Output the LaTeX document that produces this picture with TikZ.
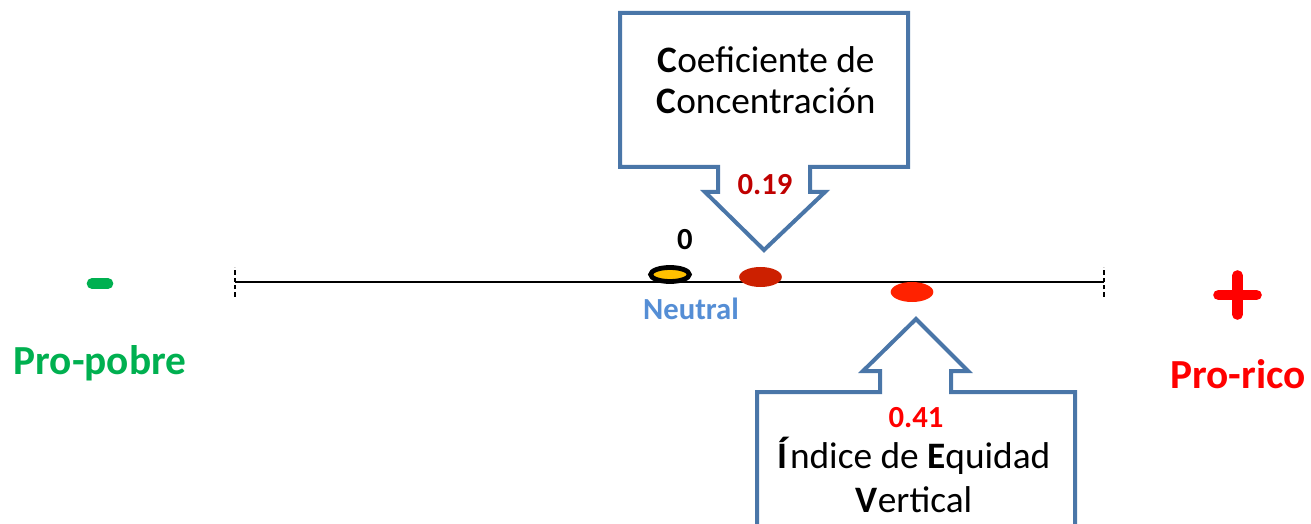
\documentclass[tikz,border=0pt]{standalone}
\usepackage{fontspec}
\setmainfont{Carlito}
\usetikzlibrary{positioning,shapes.geometric}
\definecolor{calloutblue}{RGB}{74,118,168}
\definecolor{neutralblue}{RGB}{85,142,213}
\definecolor{ccred}{RGB}{204,32,0}
\definecolor{ievred}{RGB}{255,34,0}
\definecolor{ccval}{RGB}{192,0,0}
\definecolor{ievval}{RGB}{255,0,0}
\definecolor{pobregreen}{RGB}{0,176,80}
\definecolor{neutralgold}{RGB}{255,192,0}
\tikzset{
	callout/.style = {draw=calloutblue, line width=3pt, fill=white,
		line join=miter},% flecha de llamada
	boxtext/.style = {align=center, inner sep=0pt, anchor=base,
		font=\fontsize{28}{31}\selectfont},
	valtext/.style = {inner sep=0pt, anchor=base,
		font=\bfseries\fontsize{23}{26}\selectfont},
	poletext/.style = {inner sep=0pt, anchor=base,
		font=\bfseries\fontsize{31}{36}\selectfont},
	dot_n/.style = {ellipse, draw=black, line width=3.6pt, fill=neutralgold,
		minimum width=29pt, minimum height=10.5pt, inner sep=0pt},% punto neutral
	dot_c/.style = {ellipse, fill=ccred, minimum width=32pt,
		minimum height=15pt, inner sep=0pt},% coeficiente
	dot_i/.style = {ellipse, fill=ievred, minimum width=32pt,
		minimum height=15pt, inner sep=0pt},% indice
	axtick/.style = {line width=1.1pt, dash pattern=on 3.3pt off 2.2pt}
}
\begin{document}
\begin{tikzpicture}[x=0.75pt,y=-0.75pt]
\useasboundingbox (0,0) rectangle (1311,524);
\clip (0,0) rectangle (1311,524);
% eje
\coordinate (axl) at (235,282);
\coordinate (axr) at (1104,282);
\draw [line width=1.5pt] (axl) -- (axr);
\draw [axtick] ([yshift=-11pt]axl) -- ([yshift=11pt]axl);
\draw [axtick] ([yshift=-11pt]axr) -- ([yshift=11pt]axr);
% puntos
\node (neutral) [dot_n] at (670,274.5) {};
\node (cc) [dot_c] at (760.5,277) {};
\node (iev) [dot_i] at (912,292) {};
\node (zero) [valtext] at (685,250) {0};
\node (neutrallbl) [valtext, text=neutralblue] at (691,320) {Neutral};
% polos
\draw [pobregreen, line width=8pt, line cap=round] (92,283.5) -- (108,283.5);
\draw [ievval, line width=8pt, line cap=round] (1218.5,295) -- (1256.5,295)
	(1237.5,275.5) -- (1237.5,314.5);
\node (pobre) [poletext, text=pobregreen] at (100,374) {Pro-pobre};
\node (rico) [poletext, text=ievval] at (1238,388) {Pro-rico};
% llamada superior
\draw [callout] (620,13) -- (908,13) -- (908,167) -- (810,167) -- (810,192)
	-- (825,192) -- (764,250) -- (705,192) -- (718,192) -- (718,167)
	-- (620,167) -- cycle;
\node (cctext) [boxtext] at (766,114) {\textbf{C}oeficiente de\\\textbf{C}oncentración};
\node (ccnum) [valtext, text=ccval] at (765,195) {0.19};
% llamada inferior
\draw [callout] (757,540) -- (757,392) -- (880,392) -- (880,371) -- (863,371)
	-- (916,319) -- (968,371) -- (951,371) -- (951,392) -- (1075,392)
	-- (1075,540);
\node (ievnum) [valtext, text=ievval] at (916,427) {0.41};
\node (ievtext) [boxtext, font=\fontsize{28}{33}\selectfont] at (914,512)
	{\textbf{Í}ndice de \textbf{E}quidad\\\textbf{V}ertical};
\end{tikzpicture}
\end{document}
